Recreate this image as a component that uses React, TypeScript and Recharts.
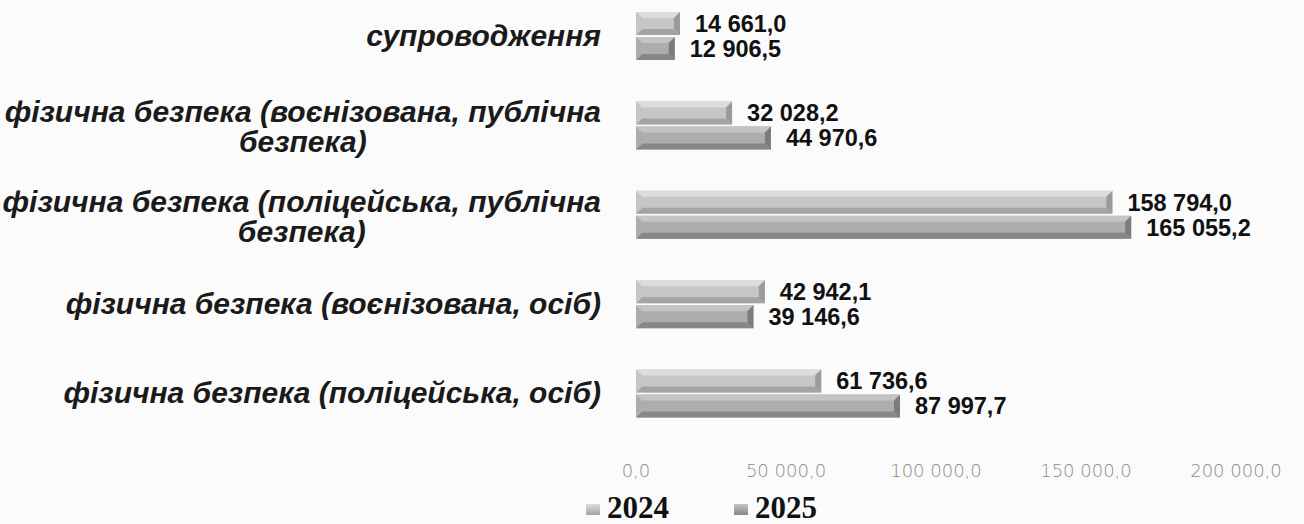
import { BarChart, Bar, XAxis, YAxis, Legend, LabelList } from "recharts";

const categories = [
  "супроводження",
  "фізична безпека (воєнізована, публічна безпека)",
  "фізична безпека (поліцейська, публічна безпека)",
  "фізична безпека (воєнізована, осіб)",
  "фізична безпека (поліцейська, осіб)",
];
const values2024 = [14661.0, 32028.2, 158794.0, 42942.1, 61736.6];
const values2025 = [12906.5, 44970.6, 165055.2, 39146.6, 87997.7];
const xTicks = [0, 50000, 100000, 150000, 200000];

const series = [
  { key: "y2024", name: "2024", face: "#c6c6c6", top: "#dcdcdc", bottom: "#a4a4a4", side: "#9a9a9a" },
  { key: "y2025", name: "2025", face: "#adadad", top: "#c4c4c4", bottom: "#878787", side: "#7c7c7c" },
];

const data = categories.map((name, i) => ({ name, y2024: values2024[i], y2025: values2025[i] }));

const LABEL_FONT = "italic bold 30px 'Liberation Sans'";

function fmt(v: number) {
  const [int, dec] = v.toFixed(1).split(".");
  return int.replace(/\B(?=(\d{3})+(?!\d))/g, " ") + "," + dec;
}

function wrap(text: string, max: number) {
  const lines: string[] = [];
  let cur = "";
  for (const w of text.split(" ")) {
    const next = cur ? cur + " " + w : w;
    if (next.length > max && cur) {
      lines.push(cur);
      cur = w;
    } else cur = next;
  }
  if (cur) lines.push(cur);
  return lines;
}

let ctx: CanvasRenderingContext2D | null = null;
function measure(s: string) {
  if (!ctx) ctx = document.createElement("canvas").getContext("2d");
  if (!ctx) return s.length * 15;
  ctx.font = LABEL_FONT;
  return ctx.measureText(s).width;
}

function CategoryTick(props: any) {
  const { x, y, payload } = props;
  const right = x - 35;
  const lines = wrap(payload.value, 38);
  if (lines.length === 1) {
    return (
      <text x={right} y={y + 10} textAnchor="end" fill="#1a1a1a"
        style={{ font: LABEL_FONT }}>{lines[0]}</text>
    );
  }
  const mid = right - measure(lines[0]) / 2;
  return (
    <g>
      {lines.map((l, i) => (
        <text key={i} x={mid} y={y - 3 + i * 30} textAnchor="middle" fill="#1a1a1a"
          style={{ font: LABEL_FONT }}>{l}</text>
      ))}
    </g>
  );
}

function ValueTick(props: any) {
  const { x, y, payload } = props;
  return (
    <text x={x} y={y + 39} textAnchor="middle" fill="#8a8a8a"
      style={{ fontFamily: "'DejaVu Sans'", fontWeight: 200, fontSize: 18 }}>
      {fmt(payload.value)}
    </text>
  );
}

function bevelShape(s: typeof series[number]) {
  return (props: any) => {
    const { x, y, width: w, height: h } = props;
    if (!w || w <= 0) return <g />;
    const b = Math.min(6, w / 2);
    return (
      <g>
        <rect x={x} y={y} width={w} height={h} fill={s.face} />
        <polygon points={`${x},${y} ${x + w},${y} ${x + w - b},${y + b} ${x + b},${y + b}`} fill={s.top} />
        <polygon points={`${x},${y + h} ${x + w},${y + h} ${x + w - b},${y + h - b} ${x + b},${y + h - b}`} fill={s.bottom} />
        <polygon points={`${x + w},${y} ${x + w},${y + h} ${x + w - b},${y + h - b} ${x + w - b},${y + b}`} fill={s.side} />
        <polygon points={`${x},${y} ${x},${y + h} ${x + b},${y + h - b} ${x + b},${y + b}`} fill={s.face} />
      </g>
    );
  };
}

function LegendContent() {
  const pos = [586, 734];
  return (
    <svg width={1304} height={36} style={{ display: "block" }}>
      <defs>
        {series.map((s) => (
          <linearGradient key={s.key} id={`lg-${s.key}`} x1="0" y1="0" x2="0" y2="1">
            <stop offset="0" stopColor={s.top} />
            <stop offset="1" stopColor={s.bottom} />
          </linearGradient>
        ))}
      </defs>
      {series.map((s, i) => (
        <g key={s.key}>
          <rect x={pos[i]} y={16} width={14} height={11} fill={`url(#lg-${s.key})`} />
          <text x={pos[i] + 21} y={30} fill="#111"
            style={{ fontFamily: "'Liberation Serif'", fontWeight: "bold", fontSize: 31 }}>
            {s.name}
          </text>
        </g>
      ))}
    </svg>
  );
}

export default function App() {
  return (
    <div style={{ position: "absolute", left: 0, top: 0, width: 1304, height: 524, background: "#fbfbfb" }}>
      <BarChart
        width={1304}
        height={524}
        data={data}
        layout="vertical"
        margin={{ top: -9, right: 68, left: 0, bottom: 0 }}
        barSize={23}
        barGap={2}
      >
        <XAxis
          type="number"
          domain={[0, 200000]}
          ticks={xTicks}
          axisLine={false}
          tickLine={false}
          tickSize={0}
          tickMargin={0}
          height={50}
          tick={<ValueTick />}
          interval={0}
        />
        <YAxis
          type="category"
          dataKey="name"
          width={636}
          axisLine={false}
          tickLine={false}
          tickSize={0}
          tickMargin={0}
          tick={<CategoryTick />}
          interval={0}
        />
        <Legend
          verticalAlign="bottom"
          content={<LegendContent />}
          wrapperStyle={{ left: 0, bottom: 0, width: 1304, height: 36 }}
        />
        {series.map((s) => (
          <Bar key={s.key} dataKey={s.key} name={s.name} fill={s.face}
            shape={bevelShape(s)} isAnimationActive={false}>
            <LabelList dataKey={s.key} position="right" offset={15} formatter={(v: any) => fmt(Number(v))}
              style={{ fontFamily: "'Liberation Sans'", fontWeight: "bold", fontSize: 23.5, fill: "#111" }} />
          </Bar>
        ))}
      </BarChart>
    </div>
  );
}
